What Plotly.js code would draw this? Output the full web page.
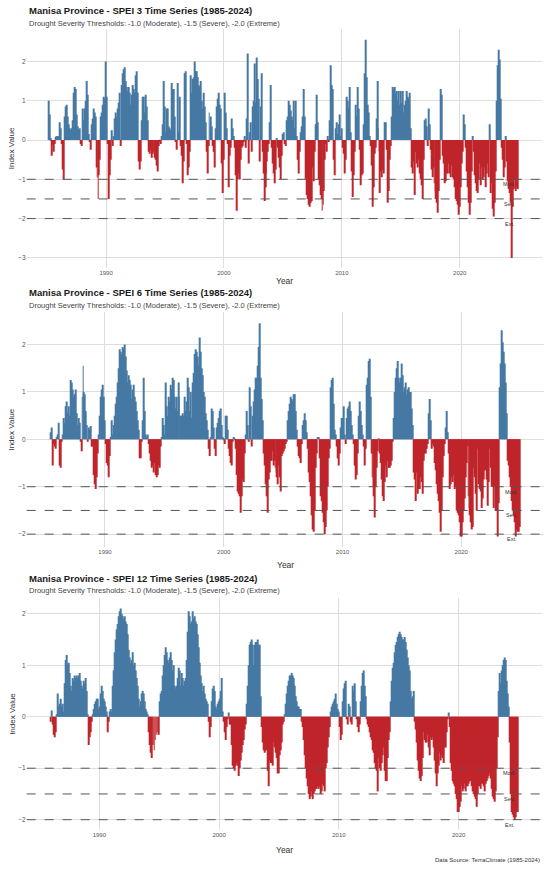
<!DOCTYPE html>
<html>
<head>
<meta charset="utf-8">
<script src="https://cdn.plot.ly/plotly-3.0.1.min.js"></script>
<style>
  html, body { margin: 0; padding: 0; background: #ffffff; }
  #chart { width: 550px; height: 871px; }
</style>
</head>
<body>
<div id="chart"></div>
<script>
// SPEI-3, monthly, from 1985-03
const spei3 = [
  1.0,0.65,0.05,-0.4,-0.12,-0.3,-0.1,0.08,0.1,0.08,
  0.1,0.45,0.3,-0.1,-0.75,-1.0,0.6,0.85,0.9,0.6,0.4,0.3,
  0.25,0.3,0.5,1.2,1.35,1.3,0.65,0.35,0.25,0.3,-0.1,-0.15,
  0.8,0.5,0.8,1.0,1.5,1.15,0.15,-0.05,-0.25,0.4,0.55,0.8,
  0.7,0.6,-0.7,-0.95,-1.5,-0.9,-0.5,0.6,0.7,0.9,1.1,1.05,
  2.0,1.1,-0.1,-1.5,-0.9,-0.5,0.25,-0.15,0.1,0.55,0.7,0.6,
  0.8,0.95,1.2,-0.15,1.4,1.7,1.8,1.85,1.5,1.35,1.25,1.35,
  1.2,0.9,1.15,1.4,1.3,1.2,1.65,1.75,1.2,-0.55,-0.75,-0.55,
  0.5,1.1,1.1,0.7,1.15,0.85,0.5,-0.3,-0.35,-0.25,-0.45,-0.35,
  -0.3,-0.25,-0.45,-0.5,-0.65,-0.8,-0.15,-0.05,-0.1,0.1,0.4,1.5,
  0.85,0.2,0.8,0.8,0.35,0.3,0.25,1.45,1.3,1.3,0.6,-0.05,
  -0.25,1.45,0.2,1.1,-0.15,-0.4,-1.1,-0.55,1.7,1.75,-0.1,-0.9,
  -0.7,-0.3,1.65,1.2,1.55,1.6,2.0,1.75,1.75,1.6,1.4,1.35,
  1.5,1.0,0.8,1.2,0.85,0.45,-0.3,-0.85,-0.15,0.7,0.25,0.6,
  0.35,-0.15,-0.3,-0.7,0.3,0.85,1.05,1.2,0.9,0.8,-0.6,-1.35,
  -0.5,1.2,0.7,0.3,-0.1,-1.2,-0.4,-0.2,0.55,0.3,0.1,-0.2,
  -0.9,-1.8,-1.0,-0.85,-1.0,-0.5,-0.2,-0.15,-0.05,0.1,-0.2,0.55,
  2.2,-0.6,0.2,0.45,-0.3,0.85,1.0,1.95,0.95,2.1,1.55,1.05,
  -0.55,0.85,1.7,-0.3,-0.85,-1.55,-1.2,-0.85,-0.55,-0.3,-0.1,0.45,
  1.4,-0.2,-0.6,-0.85,-1.1,-0.75,0.05,-0.2,-0.45,-0.7,-1.0,-0.4,
  0.15,0.2,-0.1,-0.15,0.5,0.6,1.0,0.9,0.75,0.6,0.5,1.0,
  0.3,1.0,0.1,-0.5,-0.85,-0.3,0.2,0.35,0.6,1.3,0.6,-1.0,
  -1.4,-1.5,-1.65,-1.7,-1.6,-1.55,-0.7,-1.05,-0.3,0.4,1.15,0.45,
  -1.0,-1.15,-1.4,-1.5,-1.8,-1.65,-1.3,-0.5,-0.1,-0.3,0.1,-0.05,
  0.5,1.9,1.4,1.3,-0.5,-0.9,0.3,0.45,0.15,0.4,0.65,0.1,
  0.3,-0.2,-0.35,-0.85,-0.5,1.1,1.0,0.8,1.35,0.2,-0.8,-1.45,
  -0.9,-0.3,0.9,0.6,1.35,0.8,-0.25,-1.15,-0.9,-0.85,0.4,1.7,
  2.55,1.6,0.9,0.7,0.1,-0.15,-0.65,-1.7,-1.2,-0.35,-0.2,0.55,
  1.5,0.3,-0.3,-1.35,-0.8,-0.95,-0.75,-0.85,0.45,0.45,-0.25,-1.6,
  -1.3,-0.5,-0.15,0.6,1.35,1.3,1.35,1.2,1.25,1.0,1.25,0.9,
  1.25,0.95,1.25,0.7,0.9,1.0,1.25,1.1,1.05,1.2,0.3,-0.7,
  -0.85,-0.55,-1.4,-0.3,-0.6,-0.7,-0.5,-0.85,-1.0,-1.15,-1.5,-0.5,
  0.5,0.55,0.35,-0.15,0.8,0.4,-0.25,-0.75,-0.95,-0.7,-1.1,-1.3,
  -1.5,-1.6,-1.85,-1.3,-0.5,1.3,1.15,-0.4,-0.6,-1.1,-1.05,-0.85,
  -0.85,-0.6,-0.85,-0.95,-0.65,-0.95,-1.0,-1.2,-1.5,-1.55,-1.65,-1.9,
  -1.7,-1.2,-0.6,-0.3,0.65,0.4,-0.2,-0.8,-1.2,-1.6,-1.9,-1.6,
  -0.8,0.1,-0.3,-0.9,-1.1,-1.3,-1.35,-1.0,-0.6,-1.15,-0.7,-1.0,
  -0.95,-0.7,-1.2,-0.85,-0.6,-0.95,0.4,-1.35,-1.0,-1.1,-1.75,-1.95,
  -1.6,-0.8,1.0,1.9,2.3,2.05,1.05,-0.2,-0.5,-0.95,-0.7,0.1,
  -0.55,-1.05,-1.25,-1.35,-1.6,-3.0,-1.7,-1.25,-1.0,-1.3,-1.2,-1.25
];

// SPEI-6, monthly, from 1985-06
const spei6 = [
  0.15,0.25,-0.55,-0.1,-0.15,-0.2,0.05,
  0.1,0.35,-0.55,-0.6,-0.05,0.1,0.45,0.35,0.7,0.8,0.55,0.7,
  0.5,1.25,1.2,1.05,0.9,0.95,1.05,0.55,0.3,0.45,0.35,-0.05,
  -0.25,0.9,1.55,1.0,0.95,0.6,0.3,-0.05,0.25,0.2,0.28,-0.15,
  -0.15,-0.75,-0.95,-1.05,-0.8,-0.3,0.1,0.5,0.9,1.05,1.15,0.9,
  0.4,-0.1,-0.5,-0.55,-0.8,-0.35,0.05,0.4,0.1,0.3,0.5,0.75,
  0.9,1.2,1.5,1.9,1.85,1.8,1.95,1.9,2.0,1.75,1.45,1.2,
  1.35,1.25,1.15,0.85,1.05,1.15,0.9,0.8,0.6,0.4,0.2,-0.4,
  -0.4,-0.05,0.4,1.3,0.6,0.1,0.05,0.1,-0.1,-0.3,-0.45,-0.6,
  -0.55,-0.7,-0.5,-0.75,-0.8,-0.75,-0.55,-0.6,-0.15,0.05,0.45,0.3,
  0.1,1.2,0.7,0.5,0.9,0.8,1.15,1.05,1.3,1.25,0.9,0.65,
  0.9,0.6,1.2,0.9,0.5,0.5,0.5,0.55,0.5,0.9,0.6,0.8,
  1.3,1.1,0.6,1.0,0.45,1.2,1.4,1.8,1.9,1.85,1.75,1.55,
  2.15,1.85,1.5,1.35,1.0,0.9,0.55,0.4,0.2,-0.2,-0.35,0.05,
  0.65,0.6,0.25,-0.2,-0.35,0.25,0.35,0.45,0.6,0.65,0.3,0.05,
  0.02,-0.1,0.5,0.5,0.2,-0.2,-0.35,-0.5,-0.55,-0.05,0.05,0.02,
  -0.2,-0.75,-1.1,-1.15,-1.2,-1.55,-1.2,-0.85,-0.9,-0.3,0.1,0.6,
  0.3,-0.05,1.1,0.7,-0.15,0.5,0.8,1.05,1.3,1.3,1.55,1.95,
  2.45,1.3,0.85,0.4,-0.3,-0.55,-0.95,-1.2,-1.55,-0.85,-0.7,-0.45,
  -0.45,-0.25,-0.55,-0.45,-0.6,-0.7,-0.8,-0.95,-0.55,-0.8,-1.1,-0.35,
  -0.3,-0.25,-0.2,-0.1,-0.05,0.4,0.6,0.75,0.9,0.85,0.8,0.95,
  0.95,0.6,0.2,-0.15,-0.35,-0.4,-0.5,-0.1,0.3,0.4,0.55,0.4,
  0.15,-0.2,-0.7,-0.9,-1.2,-1.6,-1.9,-1.95,-1.5,-0.6,-0.3,0.05,
  0.05,-0.4,-1.2,-1.3,-1.55,-1.75,-2.0,-1.85,-1.5,-1.0,-0.4,-0.2,
  1.1,1.25,1.3,0.75,0.2,0.1,-0.15,-0.4,-0.55,-0.3,0.25,0.45,
  0.45,0.7,0.1,-0.1,0.45,0.65,0.7,0.8,0.6,0.3,0.1,-0.1,
  -0.55,-0.85,-0.75,-0.3,0.5,0.8,0.6,0.3,0.1,-0.15,-0.55,-0.2,
  1.15,1.3,1.65,1.7,0.9,-0.3,-0.8,-1.0,-1.2,-1.65,-1.0,-0.6,
  -0.25,0.02,-0.3,-0.5,-0.85,-1.2,-1.3,-0.9,-0.55,-0.8,-0.45,-0.6,
  -0.6,-0.55,-0.45,-0.05,0.45,1.0,1.3,1.5,1.65,1.3,1.2,1.3,
  1.6,1.35,1.0,1.1,1.2,0.95,1.05,1.1,1.0,1.0,0.65,0.3,
  -0.7,-0.85,-1.3,-0.7,-1.15,-1.05,-1.05,-0.8,-0.9,-1.15,-0.45,-0.3,
  -0.3,-0.2,-0.1,0.55,0.85,0.4,-0.2,-0.1,-0.15,-0.5,-0.65,-0.95,
  -1.15,-1.3,-1.55,-1.95,-1.5,-0.8,-0.35,-0.1,0.25,0.6,0.15,-0.3,
  -1.05,-0.95,-0.8,-0.9,-0.75,-1.05,-1.0,-1.5,-1.55,-1.6,-1.75,-2.05,
  -2.05,-1.75,-1.5,-1.25,-0.8,-0.5,-0.15,-1.2,-1.45,-1.6,-1.75,-1.9,
  -1.85,-0.6,-0.8,-1.15,-1.5,-0.2,-0.95,-1.05,-1.1,-1.45,-1.25,-0.85,
  -0.65,-0.65,-0.85,-1.4,-0.9,-0.2,-0.6,-1.0,-1.0,-1.45,-1.0,-1.5,
  -1.5,-2.05,-1.35,1.1,1.6,2.3,2.05,1.85,1.6,1.2,0.55,-0.45,
  -0.55,-0.8,-1.0,-1.3,-1.5,-1.6,-1.75,-2.05,-1.9,-1.95,-1.95,-1.85
];

// SPEI-12, monthly, from 1985-12
const spei12 = [
  -0.1,
  0.12,-0.15,-0.35,-0.4,-0.3,0.05,0.45,0.2,0.25,0.35,0.2,0.25,
  0.1,0.65,1.1,1.2,1.0,1.05,0.85,0.6,0.5,0.75,0.7,0.8,
  0.75,0.8,0.75,0.8,0.85,0.7,0.6,0.55,0.7,0.65,0.75,0.5,
  0.05,-0.55,-0.4,-0.3,-0.1,0.05,0.15,0.25,0.3,0.35,0.35,0.15,
  0.2,0.45,0.6,0.5,0.35,0.3,0.2,0.1,-0.3,-0.1,0.1,0.15,
  0.1,0.6,0.9,1.25,1.5,1.7,1.8,1.95,2.05,2.1,2.0,1.95,
  1.9,1.95,1.85,1.8,1.6,1.3,1.15,1.05,1.1,1.25,1.0,1.05,
  0.9,0.75,0.6,0.35,0.2,0.3,0.45,0.5,0.45,0.3,0.15,0.1,
  0.05,-0.3,-0.55,-0.7,-0.8,-0.55,-0.55,-0.65,-0.45,-0.35,-0.3,-0.35,
  -0.35,0.3,0.45,0.5,0.8,1.0,1.2,1.35,1.25,1.1,1.05,1.15,
  1.25,1.1,0.9,1.0,0.6,0.55,0.6,0.75,0.95,0.9,0.6,0.85,
  0.75,0.6,0.7,0.75,1.1,1.65,2.05,1.95,1.8,1.85,2.05,1.9,
  1.95,1.85,1.8,1.6,1.35,1.05,0.8,0.65,0.5,0.6,0.45,0.35,
  0.3,0.25,-0.1,-0.4,-0.2,0.3,0.55,0.6,0.5,0.2,0.15,0.25,
  0.3,0.35,0.5,0.75,0.1,-0.1,-0.3,-0.45,-0.2,-0.05,0.08,-0.15,
  -0.15,-0.55,-0.95,-1.0,-1.05,-0.95,-0.9,-0.95,-1.15,-1.0,-0.85,-0.7,
  -0.55,-0.45,-0.25,-0.15,0.25,0.6,1.0,1.4,1.45,1.5,1.4,1.0,
  1.4,1.45,1.45,1.5,1.4,1.4,0.4,-0.2,-0.5,-0.65,-0.7,-0.65,
  -0.65,-1.05,-1.35,-0.85,-0.9,-0.9,-0.95,-0.5,-0.6,-0.7,-0.8,-1.1,
  -1.1,-0.75,-0.65,-0.5,-0.15,-0.1,0.05,0.25,0.45,0.6,0.7,0.8,
  0.8,0.85,0.8,0.75,0.6,0.4,0.3,0.2,0.2,0.15,0.15,-0.1,
  -0.2,-0.45,-0.75,-1.0,-1.2,-1.35,-1.5,-1.6,-1.55,-1.45,-1.6,-1.5,
  -1.45,-1.4,-1.4,-1.35,-1.4,-1.35,-1.5,-1.45,-1.3,-1.35,-1.45,-1.0,
  -0.9,-0.6,-0.4,-0.2,0.1,0.2,0.25,0.3,0.35,0.45,0.25,0.15,
  0.1,-0.2,-0.45,-0.35,0.3,0.55,0.65,0.7,-0.05,-0.15,0.25,0.2,
  -0.1,-0.15,0.6,0.5,0.65,0.3,-0.05,-0.2,-0.3,-0.15,0.3,0.6,
  0.85,0.9,0.6,0.4,-0.05,-0.15,-0.2,-0.3,-0.4,-0.45,-0.65,-0.7,
  -0.9,-1.0,-1.05,-1.45,-0.8,-1.0,-1.05,-0.9,-0.75,-0.6,-1.05,-1.25,
  -1.25,-0.8,-0.45,-0.3,0.3,0.7,0.95,1.05,1.25,1.4,1.45,1.55,
  1.6,1.65,1.6,1.55,1.5,1.5,1.55,1.45,1.3,1.15,1.0,0.9,
  0.5,0.35,0.4,0.5,-0.1,-0.25,-0.5,-0.85,-1.05,-1.2,-1.25,-1.15,
  -0.8,-0.3,-0.45,-0.5,-0.5,-0.35,-0.6,-0.75,-0.4,-0.45,-0.4,-0.6,
  -0.85,-1.1,-1.35,-1.1,-0.95,-0.7,-0.85,-0.75,-0.8,-0.9,-0.6,-0.6,
  -0.3,-0.05,0.08,-0.2,-0.9,-1.05,-1.25,-1.3,-1.35,-1.5,-1.6,-1.85,
  -1.85,-1.75,-1.65,-1.35,-1.45,-1.4,-1.3,-1.45,-1.35,-1.35,-1.3,-1.25,
  -1.25,-1.35,-1.45,-1.5,-1.55,-1.6,-1.75,-1.5,-1.35,-1.35,-1.4,-1.3,
  -1.3,-1.35,-1.45,-1.3,-1.25,-1.2,-1.15,-1.1,-1.2,-1.4,-1.55,-1.6,
  -1.65,-1.45,-1.0,-0.4,0.5,0.85,0.65,0.9,1.0,1.1,1.15,1.1,
  0.7,0.45,0.2,-0.5,-1.5,-1.85,-1.9,-1.95,-2.0,-1.95,-1.85,-1.85
];

const start3 = [1985, 3];
const start6 = [1985, 6];
const start12 = [1985, 12];
const scales = [3, 6, 12];
const yearTicks = [1990, 2000, 2010, 2020];
const thresholds = [-1.0, -1.5, -2.0];
const thresholdLabels = ["Mod.", "Sev.", "Ext."];

const W = 550, H = 871;
const fx = px => px / W;
const fy = px => 1 - px / H;

const blue = "#4579A3";
const red = "#C1252C";
const gridColor = "#dedede";
const font = "Liberation Sans, Arial, sans-serif";

// pixel boxes for the three panels
const panels = [
  { data: spei3, start: start3, left: 26.7, right: 541.7, top: 28.8, bottom: 268.1,
    xr: [1983.27, 2026.95], yr: [-3.26, 2.83], titleY: 10.7, subY: 23.3, yearY: 281 },
  { data: spei6, start: start6, left: 26.7, right: 544.3, top: 312.3, bottom: 547.4,
    xr: [1983.41, 2026.99], yr: [-2.28, 2.68], titleY: 292.3, subY: 305, yearY: 565 },
  { data: spei12, start: start12, left: 26.7, right: 541.7, top: 598.3, bottom: 830,
    xr: [1983.94, 2026.93], yr: [-2.2, 2.3], titleY: 578.3, subY: 590.7, yearY: 849.5 }
];

const traces = [];
const layout = {
  width: W, height: H,
  margin: { l: 0, r: 0, t: 0, b: 0 },
  paper_bgcolor: "#ffffff",
  plot_bgcolor: "#ffffff",
  showlegend: false,
  font: { family: font, color: "#333" },
  shapes: [],
  annotations: []
};

panels.forEach((p, i) => {
  const n = i === 0 ? "" : String(i + 1);
  const x = p.data.map((v, k) => p.start[0] + (p.start[1] - 1 + k) / 12);
  traces.push({
    type: "bar",
    x: x,
    y: p.data,
    width: 1 / 12,
    xaxis: "x" + n,
    yaxis: "y" + n,
    marker: { color: p.data.map(v => v >= 0 ? blue : red), line: { width: 0 } },
    hoverinfo: "x+y"
  });

  layout["xaxis" + n] = {
    domain: [fx(p.left), fx(p.right)],
    range: p.xr,
    anchor: "y" + n,
    tickvals: yearTicks,
    ticktext: yearTicks.map(String),
    tickfont: { size: 6, color: "#555" },
    ticks: "",
    showgrid: true,
    gridcolor: gridColor,
    gridwidth: 1,
    zeroline: false,
    showline: false,
    fixedrange: true
  };
  layout["yaxis" + n] = {
    domain: [fy(p.bottom), fy(p.top)],
    range: p.yr,
    anchor: "x" + n,
    tick0: 0,
    dtick: 1,
    tickfont: { size: 6.5, color: "#555" },
    ticks: "",
    showgrid: true,
    gridcolor: gridColor,
    gridwidth: 1,
    zeroline: false,
    showline: false,
    fixedrange: true
  };

  thresholds.forEach((t, j) => {
    layout.shapes.push({
      type: "line", xref: "x" + n + " domain", yref: "y" + n,
      x0: 0, x1: 1, y0: t, y1: t,
      line: { color: "#555", width: 1, dash: "dash" }
    });
    layout.annotations.push({
      xref: "x" + n, yref: "y" + n, x: 2024.25, y: t, yshift: -5,
      text: thresholdLabels[j], showarrow: false,
      font: { size: 5.5, color: "#333" }
    });
  });

  layout.annotations.push({
    xref: "paper", yref: "paper", x: fx(p.left), y: fy(p.titleY),
    xanchor: "left", yanchor: "middle", showarrow: false,
    text: "<b>Manisa Province - SPEI " + scales[i] + " Time Series (1985-2024)</b>",
    font: { size: 9.5, color: "#1a1a1a" }
  });
  layout.annotations.push({
    xref: "paper", yref: "paper", x: fx(p.left), y: fy(p.subY),
    xanchor: "left", yanchor: "middle", showarrow: false,
    text: "Drought Severity Thresholds: -1.0 (Moderate), -1.5 (Severe), -2.0 (Extreme)",
    font: { size: 7.5, color: "#444" }
  });
  layout.annotations.push({
    xref: "paper", yref: "paper", x: fx(11.7), y: fy((p.top + p.bottom) / 2),
    xanchor: "center", yanchor: "middle", showarrow: false, textangle: -90,
    text: "Index Value", font: { size: 8, color: "#333" }
  });
  layout.annotations.push({
    xref: "paper", yref: "paper", x: fx((p.left + p.right) / 2), y: fy(p.yearY),
    xanchor: "center", yanchor: "middle", showarrow: false,
    text: "Year", font: { size: 8.5, color: "#333" }
  });
});

layout.annotations.push({
  xref: "paper", yref: "paper", x: fx(541.7), y: fy(860),
  xanchor: "right", yanchor: "middle", showarrow: false,
  text: "Data Source: TerraClimate (1985-2024)", font: { size: 6, color: "#333" }
});

// not a static plot: Plotly then snaps the thin bars to whole pixels
Plotly.newPlot("chart", traces, layout, { displayModeBar: false });
</script>
</body>
</html>
